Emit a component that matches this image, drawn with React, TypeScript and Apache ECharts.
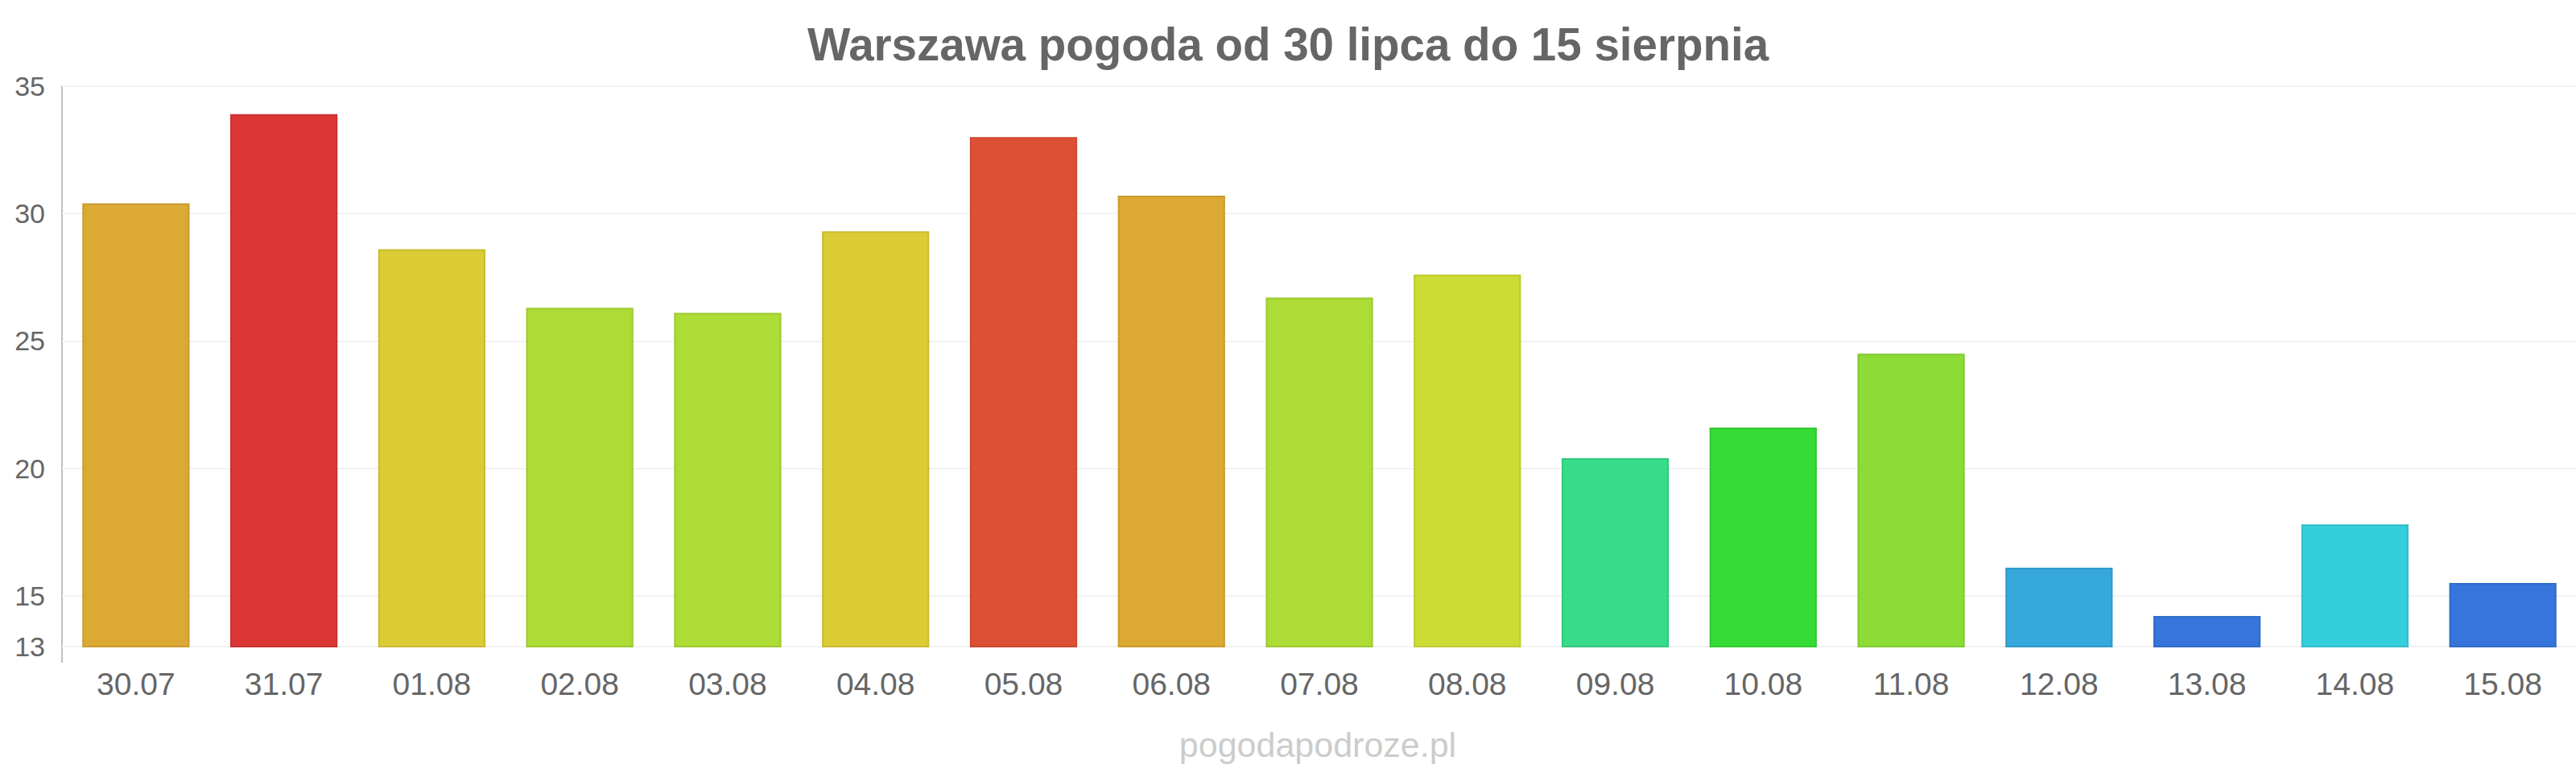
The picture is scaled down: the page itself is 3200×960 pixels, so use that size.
import React, { useEffect, useRef } from "react";
import * as echarts from "echarts";

const titleText = "Warszawa pogoda od 30 lipca do 15 sierpnia";
const sourceText = "pogodapodroze.pl";

const categories = [
  "30.07", "31.07", "01.08", "02.08", "03.08", "04.08", "05.08", "06.08", "07.08",
  "08.08", "09.08", "10.08", "11.08", "12.08", "13.08", "14.08", "15.08",
];

const temperatures = [
  30.4, 33.9, 28.6, 26.3, 26.1, 29.3, 33.0, 30.7, 26.7, 27.6, 20.4, 21.6, 24.5, 16.1, 14.2, 17.8, 15.5,
];

const barColors = [
  "#dba934", "#db3535", "#dbcb35", "#acdc35", "#acdc35", "#dbcc35", "#dd5035", "#dba934", "#acdc35",
  "#cddc35", "#38db8a", "#35db35", "#8cdc35", "#36a8db", "#3675db", "#35cedb", "#3675db",
];

const yTicks = [13, 15, 20, 25, 30, 35];

const FONT = "'Liberation Sans', Arial, sans-serif";

function darken(hex: string, f: number): string {
  const n = parseInt(hex.slice(1), 16);
  const r = Math.round(((n >> 16) & 255) * f);
  const g = Math.round(((n >> 8) & 255) * f);
  const b = Math.round((n & 255) * f);
  return "#" + [r, g, b].map((v) => v.toString(16).padStart(2, "0")).join("");
}

export default function App() {
  const ref = useRef<HTMLDivElement>(null);

  useEffect(() => {
    document.body.style.margin = "0";
    if (!ref.current) return;
    const chart = echarts.init(ref.current, undefined, { renderer: "svg" });
    chart.setOption({
      animation: false,
      backgroundColor: "#ffffff",
      grid: {
        left: 77,
        right: -1,
        top: 107,
        bottom: 157,
        containLabel: false,
        outerBoundsMode: "none",
      },
      graphic: [
        {
          type: "text",
          x: 1600,
          y: 55,
          style: {
            text: titleText,
            fill: "#666666",
            font: `bold 56.5px ${FONT}`,
            textAlign: "center",
            textVerticalAlign: "middle",
          },
        },
        {
          type: "text",
          x: 1637,
          y: 925,
          style: {
            text: sourceText,
            fill: "#cccccc",
            font: `43px ${FONT}`,
            textAlign: "center",
            textVerticalAlign: "middle",
          },
        },
      ],
      xAxis: {
        type: "category",
        data: categories,
        boundaryGap: true,
        axisLine: { show: false },
        axisTick: {
          show: true,
          length: 20,
          interval: (index: number) => index === 0,
          lineStyle: { color: "#c0c0c0", width: 2 },
        },
        axisLabel: {
          color: "#666666",
          fontSize: 39,
          lineHeight: 39,
          fontFamily: FONT,
          margin: 27,
          interval: 0,
        },
        splitLine: { show: false },
      },
      yAxis: {
        type: "value",
        min: 13,
        max: 35,
        axisLine: { show: true, lineStyle: { color: "#c0c0c0", width: 2 } },
        axisTick: { show: false },
        splitLine: { show: false },
        axisLabel: {
          customValues: yTicks,
          color: "#666666",
          fontSize: 34,
          fontFamily: FONT,
          margin: 21,
        },
      },
      series: [
        {
          type: "bar",
          barCategoryGap: "27.5%",
          z: 2,
          data: temperatures.map((v, i) => ({
            value: v,
            itemStyle: {
              color: barColors[i],
              borderColor: darken(barColors[i], 0.92),
              borderWidth: 2,
            },
          })),
          markLine: {
            silent: true,
            z: 1,
            symbol: "none",
            label: { show: false },
            lineStyle: { color: "#f2f2f2", width: 2, type: "solid" },
            data: yTicks.map((v) => ({ yAxis: v })),
          },
        },
      ],
    });
    return () => chart.dispose();
  }, []);

  return <div ref={ref} style={{ width: 3200, height: 960 }} />;
}
